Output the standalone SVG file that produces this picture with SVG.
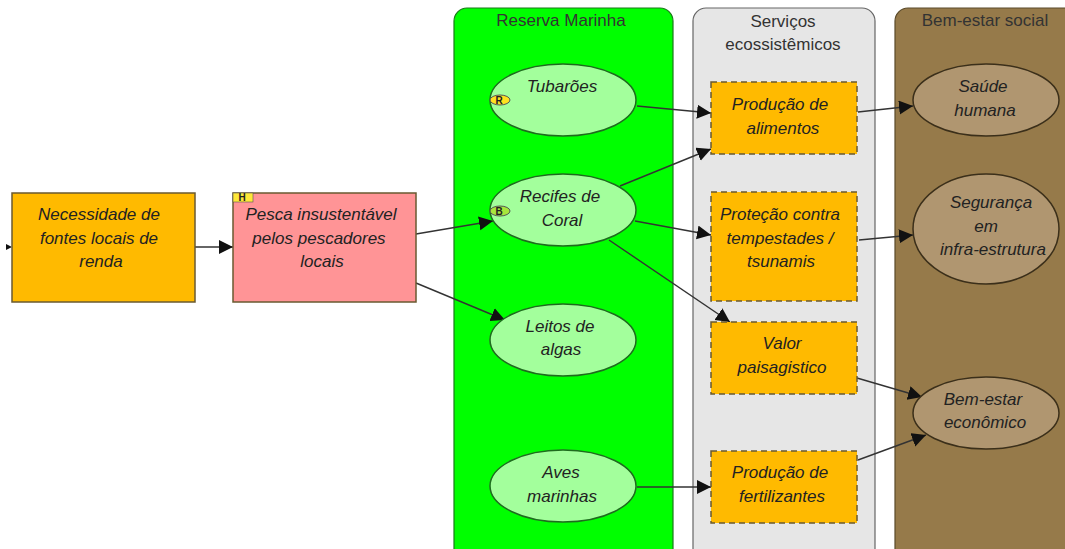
<svg xmlns="http://www.w3.org/2000/svg" width="1065" height="549" viewBox="0 0 1065 549">
<style>
text{font-family:"Liberation Sans",Arial,sans-serif;font-size:17px;fill:#222;text-anchor:middle}
.n text{font-style:italic}
.hd{fill:#333}
.box{stroke:#6a5a30;stroke-width:1.5}
.dash{fill:#ffba00;stroke:#6a5a30;stroke-width:1.5;stroke-dasharray:6 4}
.el{fill:#a3ff9c;stroke:#1f6b1f;stroke-width:1.5}
.bel{fill:#b09670;stroke:#3b2f1a;stroke-width:1.5}
.c line{stroke:#333;stroke-width:1.4;marker-end:url(#a)}
.n text.tag{font-size:10px;font-weight:bold;font-style:normal}
</style>
<defs><marker id="a" markerUnits="userSpaceOnUse" markerWidth="15" markerHeight="15" refX="14" refY="7" orient="auto"><path d="M0 0L14 7L0 14z" fill="#111"/></marker></defs>
<rect width="1065" height="549" fill="#fff"/>
<g id="reserva"><rect x="454" y="8" width="219" height="570" rx="13" fill="#00ff00" stroke="#1a7a1a" stroke-width="1.2"/><text class="hd" x="561" y="26">Reserva Marinha</text></g>
<g id="servicos"><rect x="693" y="8" width="182" height="570" rx="13" fill="#e6e6e6" stroke="#666" stroke-width="1.2"/><text class="hd" x="783" y="27">Serviços</text><text class="hd" x="783" y="50">ecossistêmicos</text></g>
<g id="bemestar"><rect x="895" y="8" width="200" height="570" rx="13" fill="#967a4a" stroke="#5a4a2a" stroke-width="1.2"/><text class="hd" x="985" y="26">Bem-estar social</text></g>
<g id="connectors" class="c">
<path d="M6 244L12 247L6 250z" fill="#111"/>
<line x1="195" y1="247" x2="233" y2="247"/>
<line x1="416" y1="234" x2="493" y2="221"/>
<line x1="416" y1="283" x2="505" y2="320"/>
<line x1="637" y1="106" x2="711" y2="113"/>
<line x1="620" y1="186" x2="711" y2="149"/>
<line x1="635" y1="221" x2="711" y2="235"/>
<line x1="609" y1="240" x2="730" y2="322"/>
<line x1="637" y1="487" x2="711" y2="487"/>
<line x1="858" y1="112" x2="913" y2="106"/>
<line x1="859" y1="240" x2="913" y2="235"/>
<line x1="857" y1="378" x2="922" y2="397"/>
<line x1="858" y1="460" x2="926" y2="435"/>
</g>
<g id="n1" class="n"><rect class="box" x="12" y="193" width="183" height="109" fill="#ffba00"/><text x="99" y="220">Necessidade de</text><text x="99" y="244">fontes locais de</text><text x="101" y="267">renda</text></g>
<g id="n2" class="n"><rect class="box" x="233" y="193" width="183" height="109" fill="#ff9496" stroke="#555"/><rect x="233" y="193" width="20" height="9" fill="#ffe838" stroke="#555" stroke-width=".6"/><text class="tag" x="242" y="201">H</text><text x="321" y="220">Pesca insustentável</text><text x="319" y="244">pelos pescadores</text><text x="322" y="267">locais</text></g>
<g id="n3" class="n"><ellipse class="el" cx="563" cy="100" rx="73" ry="36"/><ellipse cx="500" cy="100" rx="10" ry="5" fill="#ffe020" stroke="#555" stroke-width="1"/><text class="tag" x="499" y="104">R</text><text x="562" y="92">Tubarões</text></g>
<g id="n4" class="n"><ellipse class="el" cx="563" cy="210" rx="73" ry="36"/><ellipse cx="500" cy="211" rx="10" ry="5" fill="#a8e63c" stroke="#555" stroke-width="1"/><text class="tag" x="499" y="215">B</text><text x="560" y="202">Recifes de</text><text x="562" y="226">Coral</text></g>
<g id="n5" class="n"><ellipse class="el" cx="563" cy="340" rx="73" ry="36"/><text x="560" y="332">Leitos de</text><text x="561" y="355">algas</text></g>
<g id="n6" class="n"><ellipse class="el" cx="563" cy="486" rx="73" ry="36"/><text x="561" y="478">Aves</text><text x="562" y="502">marinhas</text></g>
<g id="n7" class="n"><rect class="dash" x="711" y="82" width="146" height="72"/><text x="780" y="110">Produção de</text><text x="783" y="134">alimentos</text></g>
<g id="n8" class="n"><rect class="dash" x="711" y="192" width="146" height="109"/><text x="780" y="220">Proteção contra</text><text x="780" y="244">tempestades /</text><text x="781" y="267">tsunamis</text></g>
<g id="n9" class="n"><rect class="dash" x="711" y="322" width="146" height="72"/><text x="782" y="349">Valor</text><text x="782" y="373">paisagistico</text></g>
<g id="n10" class="n"><rect class="dash" x="711" y="451" width="146" height="72"/><text x="780" y="478">Produção de</text><text x="782" y="502">fertilizantes</text></g>
<g id="n11" class="n"><ellipse class="bel" cx="986" cy="100" rx="73" ry="36"/><text x="983" y="92">Saúde</text><text x="985" y="116">humana</text></g>
<g id="n12" class="n"><ellipse class="bel" cx="986" cy="229" rx="73" ry="55"/><text x="991" y="208">Segurança</text><text x="986" y="232">em</text><text x="993" y="255">infra-estrutura</text></g>
<g id="n13" class="n"><ellipse class="bel" cx="986" cy="413" rx="73" ry="36"/><text x="983" y="405">Bem-estar</text><text x="985" y="428">econômico</text></g>
</svg>
